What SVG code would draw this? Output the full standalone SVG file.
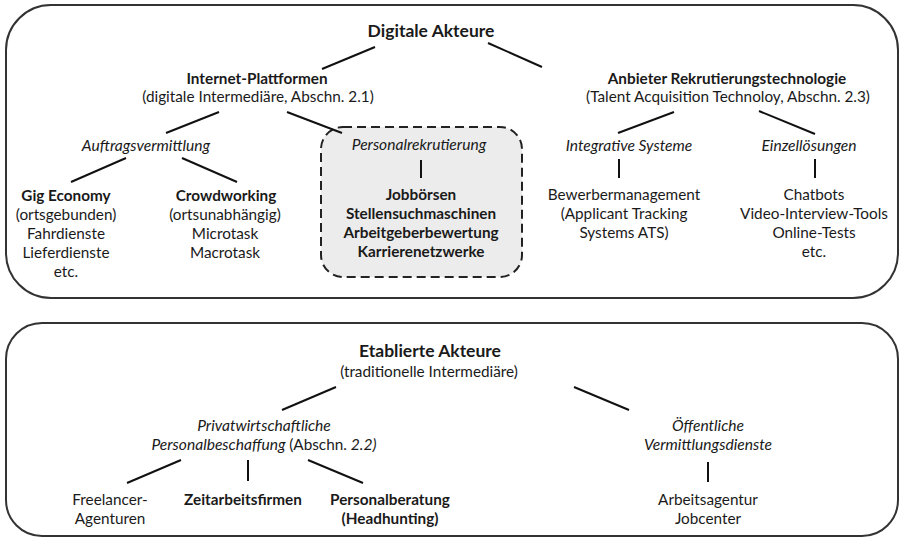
<svg xmlns="http://www.w3.org/2000/svg" width="904" height="538" viewBox="0 0 904 538">
<style>
text{font-family:Lato,"Open Sans","Liberation Sans",sans-serif;font-size:15.3px;fill:#1a1a1a;text-anchor:middle}
.b{font-weight:bold}
.h{font-weight:bold;font-size:17.5px}
.i{font-style:italic;font-size:15.6px}
.frame{fill:#fff;stroke:#333;stroke-width:2}
.dash{fill:#ececec;stroke:#222;stroke-width:2;stroke-dasharray:9 5}
.c line{stroke:#111;stroke-width:2}
</style>
<rect width="904" height="538" fill="#fff"/>
<g id="digital-frame"><rect class="frame" x="6" y="5" width="892" height="293" rx="45"/></g>
<g id="established-frame"><rect class="frame" x="6" y="323" width="892" height="213" rx="36"/></g>
<g id="personal-box"><rect class="dash" x="321" y="127" width="201" height="150" rx="22"/></g>
<g class="c" id="connectors">
<line x1="322" y1="69" x2="375" y2="47"/>
<line x1="488" y1="43" x2="542" y2="67"/>
<line x1="219" y1="112" x2="166" y2="133"/>
<line x1="287" y1="112" x2="342" y2="133"/>
<line x1="674" y1="112" x2="618" y2="133"/>
<line x1="759" y1="111" x2="815" y2="134"/>
<line x1="126" y1="158" x2="71" y2="182"/>
<line x1="182" y1="158" x2="237" y2="182"/>
<line x1="421" y1="160" x2="421" y2="178"/>
<line x1="619" y1="159" x2="619" y2="178"/>
<line x1="815" y1="159" x2="815" y2="178"/>
<line x1="336" y1="387" x2="282" y2="410"/>
<line x1="574" y1="387" x2="629" y2="410"/>
<line x1="181" y1="460" x2="127" y2="483"/>
<line x1="248" y1="460" x2="248" y2="481"/>
<line x1="308" y1="460" x2="363" y2="483"/>
<line x1="708" y1="462" x2="708" y2="482"/>
</g>
<g id="digitale-akteure"><text class="h" x="431" y="37">Digitale Akteure</text></g>
<g id="internet-plattformen"><text class="b" x="257" y="84">Internet-Plattformen</text><text x="258" y="102">(digitale Intermediäre, Abschn. 2.1)</text></g>
<g id="anbieter"><text class="b" x="727" y="84">Anbieter Rekrutierungstechnologie</text><text x="728" y="102">(Talent Acquisition Technoloy, Abschn. 2.3)</text></g>
<g id="auftragsvermittlung"><text class="i" x="146" y="151">Auftragsvermittlung</text></g>
<g id="personalrekrutierung"><text class="i" x="419" y="150">Personalrekrutierung</text></g>
<g id="integrative"><text class="i" x="629" y="151">Integrative Systeme</text></g>
<g id="einzelloesungen"><text class="i" x="809" y="151">Einzellösungen</text></g>
<g id="gig"><text class="b" x="66" y="201">Gig Economy</text><text x="66" y="220">(ortsgebunden)</text><text x="66" y="239">Fahrdienste</text><text x="66" y="258">Lieferdienste</text><text x="66" y="277">etc.</text></g>
<g id="crowd"><text class="b" x="226" y="201">Crowdworking</text><text x="225" y="220">(ortsunabhängig)</text><text x="225" y="239">Microtask</text><text x="225" y="258">Macrotask</text></g>
<g id="jobboersen"><text class="b" x="421" y="200">Jobbörsen</text><text class="b" x="421" y="219">Stellensuchmaschinen</text><text class="b" x="421" y="238">Arbeitgeberbewertung</text><text class="b" x="421" y="257">Karrierenetzwerke</text></g>
<g id="bewerbermanagement"><text x="624" y="200">Bewerbermanagement</text><text x="624" y="219">(Applicant Tracking</text><text x="624" y="238">Systems ATS)</text></g>
<g id="chatbots"><text x="814" y="200">Chatbots</text><text x="814" y="219">Video-Interview-Tools</text><text x="814" y="238">Online-Tests</text><text x="814" y="257">etc.</text></g>
<g id="etablierte-akteure"><text class="h" x="430" y="357">Etablierte Akteure</text><text x="429" y="377">(traditionelle Intermediäre)</text></g>
<g id="privatwirtschaftlich"><text class="i" x="264" y="431">Privatwirtschaftliche</text><text x="264" y="450"><tspan class="i">Personalbeschaffung </tspan>(Abschn. <tspan class="i">2.2)</tspan></text></g>
<g id="oeffentlich"><text class="i" x="708" y="431">Öffentliche</text><text class="i" x="708" y="450">Vermittlungsdienste</text></g>
<g id="freelancer"><text x="110" y="505" fill="#333">Freelancer-</text><text x="110" y="524">Agenturen</text></g>
<g id="zeitarbeit"><text class="b" x="243" y="505">Zeitarbeitsfirmen</text></g>
<g id="personalberatung"><text class="b" x="390" y="505">Personalberatung</text><text class="b" x="390" y="524">(Headhunting)</text></g>
<g id="arbeitsagentur"><text x="708" y="505">Arbeitsagentur</text><text x="708" y="524">Jobcenter</text></g>
</svg>
